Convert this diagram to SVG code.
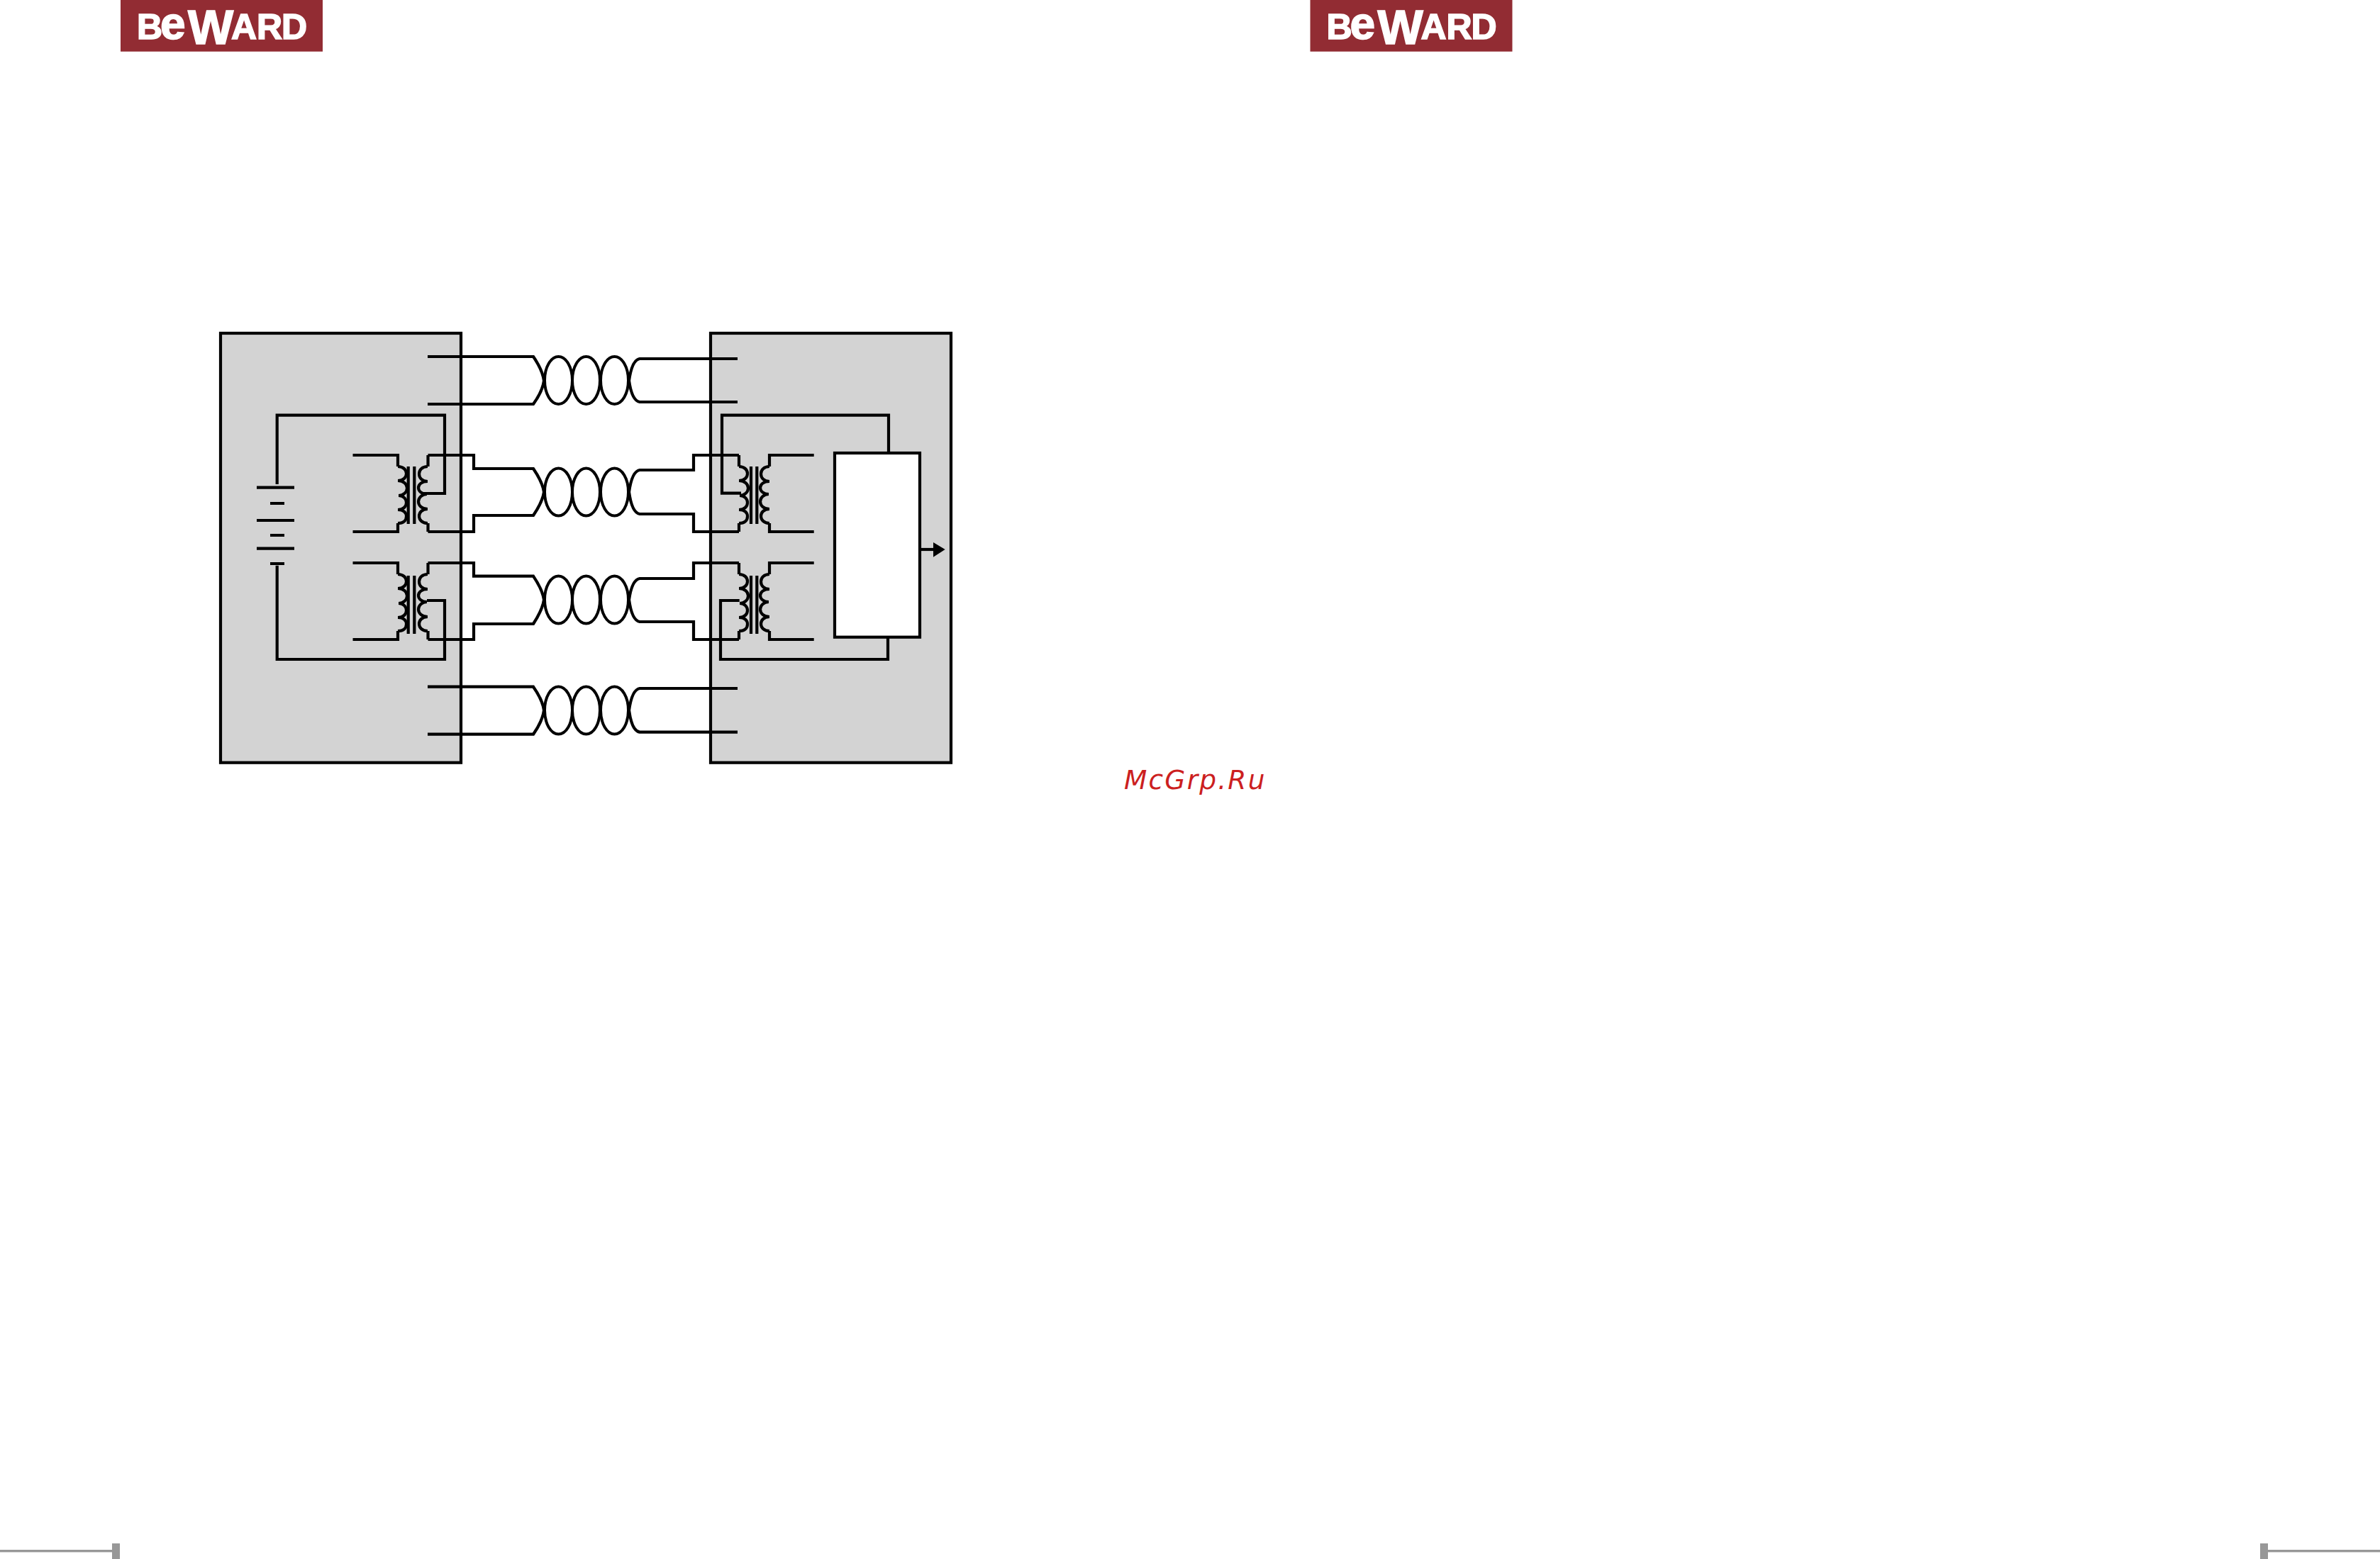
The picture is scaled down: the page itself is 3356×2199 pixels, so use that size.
<svg xmlns="http://www.w3.org/2000/svg" width="3356" height="2199" viewBox="0 0 3356 2199">
<style>
.box{fill:#d3d3d3;stroke:#000;stroke-width:4.2}
.w{fill:none;stroke:#000;stroke-width:4.2}
.o{fill:none;stroke:#000;stroke-width:4}
.bar{fill:none;stroke:#000;stroke-width:4.2}
.logo{fill:#922c33}
.lt{fill:#fff;stroke:#fff;stroke-width:1.6;font-family:"Liberation Sans",Arial,sans-serif;font-weight:700;font-size:50px}
.ft{fill:#989898}
</style>
<defs>
<g id="lcoil"><path class="w" d="M0 0C8 0 12 5 12 10S8 20 0 20C8 20 13 25 13 30.500S8 41 1 41C8 41 12 46 12 51S8 61 0 61C8 61 12 65 12 70.500S8 80 0 80"/></g>
<g id="rcoil"><path class="w" d="M0 0C-8 0 -12 5 -12 10.500S-8 21 0 21C-8 21 -13 25 -13 30S-8 39 -1 39C-8 39 -13 44 -13 49.500S-8 60 0 60C-8 60 -12 65 -12 70S-8 80 0 80"/></g>
<g id="ovals"><ellipse class="o" cx="787.500" cy="0" rx="19.500" ry="33.500"/><ellipse class="o" cx="826.500" cy="0" rx="19.500" ry="33.500"/><ellipse class="o" cx="866.500" cy="0" rx="19.500" ry="33.500"/></g>
<g id="brand"><rect class="logo" x="0" y="0" width="285" height="72.700"/><text class="lt" y="55"><tspan x="23">B</tspan><tspan x="56" font-size="64">e</tspan><tspan x="95" y="62" font-size="68">W</tspan><tspan x="156" y="55">A</tspan><tspan x="192">R</tspan><tspan x="227">D</tspan></text></g>
</defs>
<rect width="3356" height="2199" fill="#fff"/>
<g id="logo-left"><use href="#brand" x="170"/></g>
<g id="logo-right"><use href="#brand" x="1847.500"/></g>
<g id="sender"><rect class="box" x="311" y="470" width="339" height="605.700"/></g>
<g id="receiver"><rect class="box" x="1002" y="470" width="339" height="605.700"/></g>
<g id="device"><rect x="1177" y="639" width="120" height="259.700" fill="#fff" stroke="#000" stroke-width="4.200"/></g>
<g id="battery">
<path class="w" d="M362 687.700H415M381 710H401M362 734H415M381 755H401M362 773.700H415M381 795H401"/>
</g>
<g id="transformer-1"><path class="w" d="M497.500 642H561V658M497.500 750H561V738M603.500 658V642M603.500 738V750"/><use href="#lcoil" x="561" y="658"/><use href="#rcoil" x="603" y="658"/><path class="bar" d="M575.700 658V739M584.300 658V739"/></g>
<g id="transformer-2"><path class="w" d="M497.500 794H561V810M497.500 902H561V890M603.500 810V794M603.500 890V902"/><use href="#lcoil" x="561" y="810"/><use href="#rcoil" x="603" y="810"/><path class="bar" d="M575.700 812V894M584.300 812V894"/></g>
<g id="transformer-3"><path class="w" d="M1042 642V658M1042 750V738M1085 658V642H1147.700M1085 738V750H1147.700"/><use href="#lcoil" x="1042" y="658"/><use href="#rcoil" x="1085" y="658"/><path class="bar" d="M1059 658V739M1067.300 658V739"/></g>
<g id="transformer-4"><path class="w" d="M1042 794V810M1042 902V890M1085 810V794H1147.700M1085 890V902H1147.700"/><use href="#lcoil" x="1042" y="810"/><use href="#rcoil" x="1085" y="810"/><path class="bar" d="M1059 812V894M1067.300 812V894"/></g>
<g id="connectors">
<path class="w" d="M603 503H752Q765 522 767 537Q765 552 752 570H603"/>
<path class="w" d="M1040 506H902Q891 508 887 537Q891 565 902 567H1040"/>
<use href="#ovals" y="536.500"/>
<path class="w" d="M603.500 642H668V661H752Q765 680 767 694Q765 708 752 727H668V750H603.500"/>
<path class="w" d="M1042 642H978V663H902Q891 665 887 694Q891 723 902 725H978V750H1042"/>
<use href="#ovals" y="694"/>
<path class="w" d="M603.500 794H668V812.700H752Q765 832 767 846Q765 860 752 880H668V902H603.500"/>
<path class="w" d="M1042 794H978V816H902Q891 818 887 846Q891 875 902 877H978V902H1042"/>
<use href="#ovals" y="846"/>
<path class="w" d="M603 968.700H752Q765 987 767 1002Q765 1017 752 1035.700H603"/>
<path class="w" d="M1040 971H902Q891 973 887 1002Q891 1031 902 1032.700H1040"/>
<use href="#ovals" y="1002"/>
<path class="w" d="M597 696H627V585.700H390.700V683"/>
<path class="w" d="M390.700 797.700V930H627V847H602"/>
<path class="w" d="M1045 695.700H1018V585.700H1253V639"/>
<path class="w" d="M1042.700 847H1016V930H1252V898.700"/>
<path class="w" d="M1297 775H1318"/>
<path d="M1316 765L1332.700 775L1316 785.700Z" fill="#000"/>
</g>
<g id="watermark"><text x="1585" y="1113" font-family="'DejaVu Sans',Verdana,sans-serif" font-style="italic" font-size="37.500" letter-spacing="2.200" fill="#cc1f1f">McGrp.Ru</text></g>
<g id="footer"><rect class="ft" x="0" y="2186" width="158" height="3.400"/><rect class="ft" x="158" y="2177" width="11" height="22"/><rect class="ft" x="3187" y="2177" width="11" height="22"/><rect class="ft" x="3198" y="2186" width="158" height="3.400"/></g>
</svg>
